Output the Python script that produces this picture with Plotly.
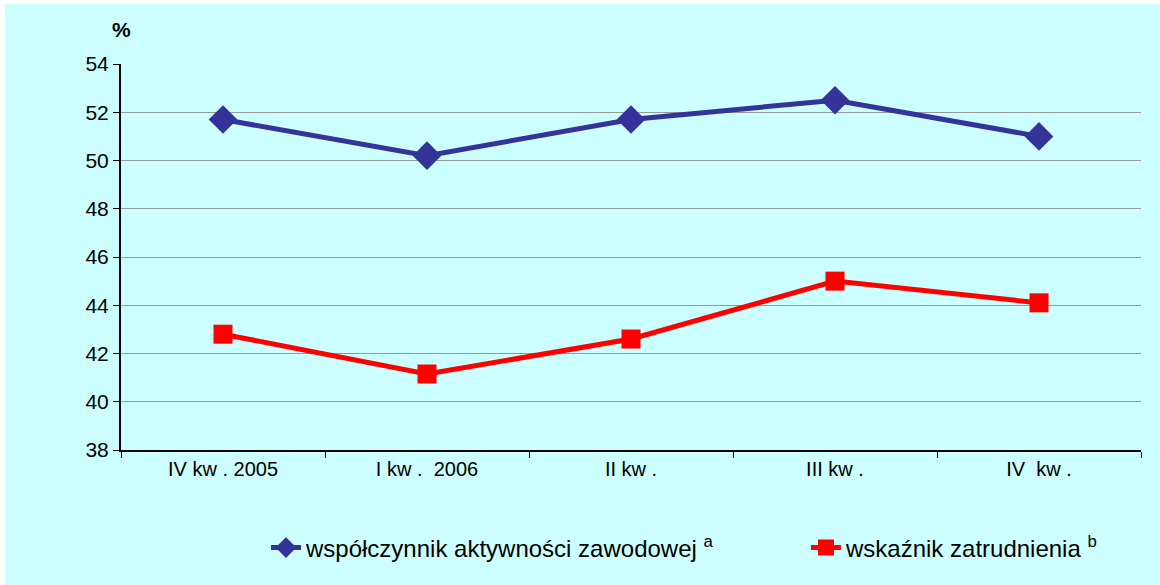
import plotly.graph_objects as go

categories = ["IV kw . 2005", "I kw .  2006", "II kw .", "III kw .", "IV  kw ."]
aktywnosc = [51.7, 50.2, 51.7, 52.5, 51.0]
zatrudnienie = [42.8, 41.15, 42.6, 45.0, 44.1]
y_ticks = [38, 40, 42, 44, 46, 48, 50, 52, 54]

W, H = 1160, 585
L, R, T, B = 121, 19, 64, 135
pw, ph = W - L - R, H - T - B

fig = go.Figure()
fig.add_trace(go.Scatter(
    x=categories, y=aktywnosc, mode="lines+markers",
    name="współczynnik aktywności zawodowej <sup>a</sup>",
    line=dict(color="#333399", width=5),
    marker=dict(symbol="diamond", size=22, color="#333399"),
    legend="legend",
))
fig.add_trace(go.Scatter(
    x=categories, y=zatrudnienie, mode="lines+markers",
    name="wskaźnik zatrudnienia <sup>b</sup>",
    line=dict(color="#FF0000", width=5),
    marker=dict(symbol="square", size=19, color="#FF0000"),
    legend="legend2",
))

leg_y = (450 - 548) / ph
fig.update_layout(
    width=W, height=H,
    margin=dict(l=L, r=R, t=T, b=B, pad=0),
    paper_bgcolor="white", plot_bgcolor="#CCFFFF",
    font=dict(family="Liberation Sans, Arial", color="black", size=18),
    showlegend=True,
    legend=dict(orientation="h", x=(266 - L) / pw, xanchor="left", y=leg_y, yanchor="middle",
                font=dict(size=24), bgcolor="rgba(0,0,0,0)"),
    legend2=dict(orientation="h", x=(806 - L) / pw, xanchor="left", y=leg_y, yanchor="middle",
                 font=dict(size=24), bgcolor="rgba(0,0,0,0)"),
    shapes=[dict(type="rect", xref="paper", yref="paper", layer="below",
                 x0=(5 - L) / pw, x1=(W + 5 - L) / pw,
                 y0=-(B + 10) / ph, y1=(ph + T - 4) / ph,
                 fillcolor="#CCFFFF", line=dict(width=0))],
    annotations=[dict(text="<b>%</b>", xref="paper", yref="paper",
                      x=(121 - L) / pw, y=(ph + T - 30) / ph, xanchor="center", yanchor="middle",
                      showarrow=False, font=dict(size=21))],
)
fig.update_xaxes(
    type="category", categoryorder="array", categoryarray=categories,
    range=[-0.5, len(categories) - 0.5],
    tickson="boundaries", ticks="outside", ticklen=6, tickcolor="black",
    showline=True, linecolor="black", linewidth=2, showgrid=False, zeroline=False,
    tickfont=dict(size=20), fixedrange=True,
)
fig.update_yaxes(
    range=[38, 54], tickmode="array", tickvals=y_ticks,
    ticks="outside", ticklen=6, tickcolor="black",
    showline=True, linecolor="black", linewidth=2,
    showgrid=True, gridcolor="#999999", gridwidth=1, zeroline=False,
    tickfont=dict(size=21),
)

fig.write_html("out.html", config={"displayModeBar": False})
with open("out.html", encoding="utf-8") as f:
    html = f.read()
html = html.replace("<head>", "<head><style>html,body{margin:0;padding:0;}</style>", 1)
with open("out.html", "w", encoding="utf-8") as f:
    f.write(html)
